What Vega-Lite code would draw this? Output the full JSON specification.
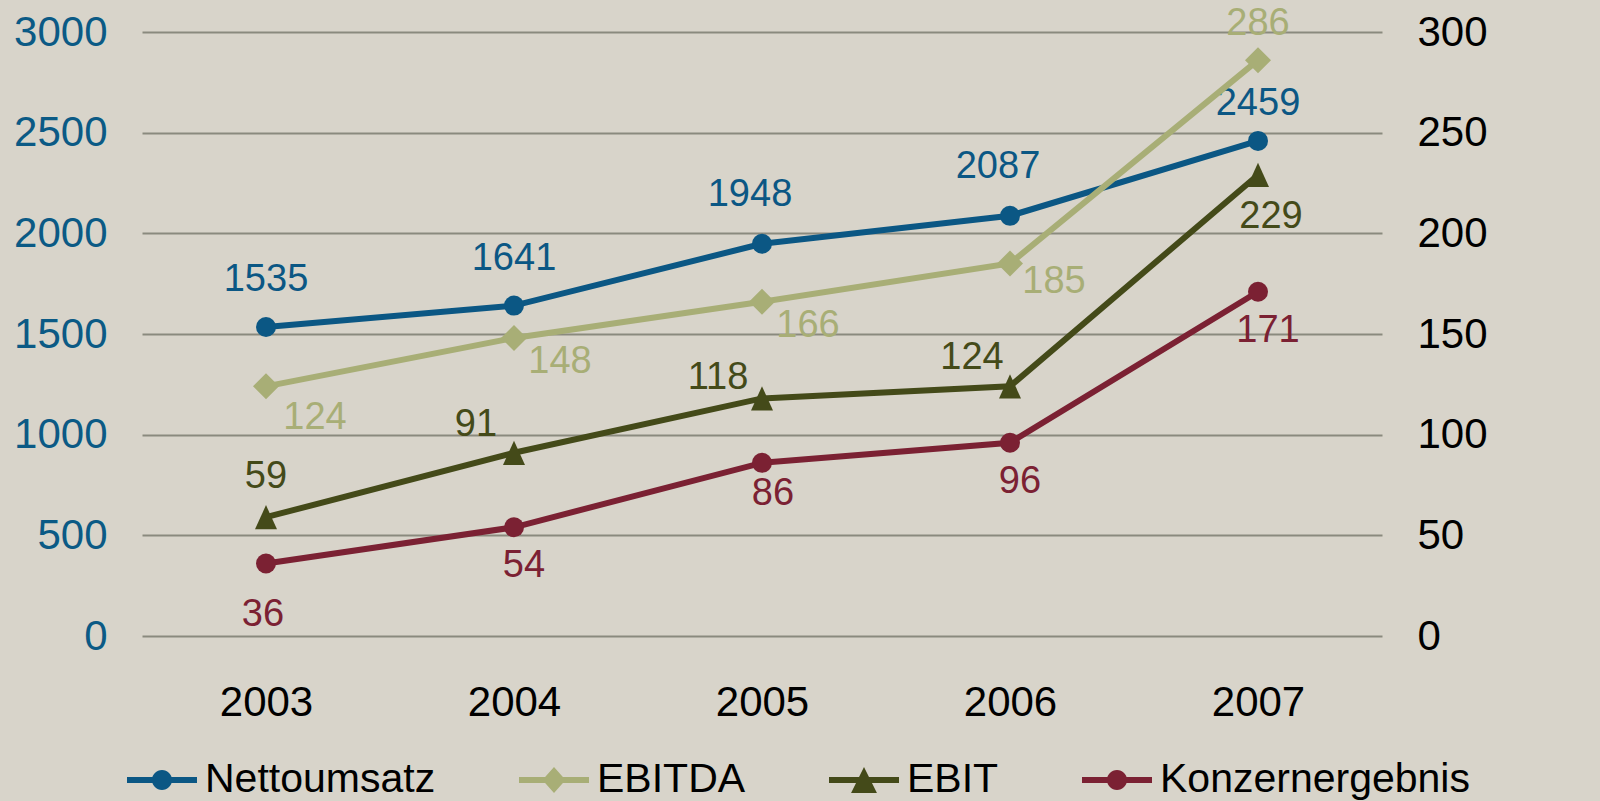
{
  "$schema": "https://vega.github.io/schema/vega-lite/v6.json",
  "width": 1240,
  "height": 604,
  "autosize": {"type": "none"},
  "padding": {"left": 142, "top": 32, "right": 218, "bottom": 165},
  "background": "#d8d4ca",
  "config": {
    "view": {"stroke": null},
    "font": "Liberation Sans",
    "axis": {"domain": false, "ticks": false, "labelFont": "Liberation Sans", "labelFontSize": 42, "title": null, "grid": false}
  },
  "data": {
    "values": [
      {"year": "2003", "series": "Nettoumsatz", "value": 1535},
      {"year": "2004", "series": "Nettoumsatz", "value": 1641},
      {"year": "2005", "series": "Nettoumsatz", "value": 1948},
      {"year": "2006", "series": "Nettoumsatz", "value": 2087},
      {"year": "2007", "series": "Nettoumsatz", "value": 2459},
      {"year": "2003", "series": "EBITDA", "value": 124},
      {"year": "2004", "series": "EBITDA", "value": 148},
      {"year": "2005", "series": "EBITDA", "value": 166},
      {"year": "2006", "series": "EBITDA", "value": 185},
      {"year": "2007", "series": "EBITDA", "value": 286},
      {"year": "2003", "series": "EBIT", "value": 59},
      {"year": "2004", "series": "EBIT", "value": 91},
      {"year": "2005", "series": "EBIT", "value": 118},
      {"year": "2006", "series": "EBIT", "value": 124},
      {"year": "2007", "series": "EBIT", "value": 229},
      {"year": "2003", "series": "Konzernergebnis", "value": 36},
      {"year": "2004", "series": "Konzernergebnis", "value": 54},
      {"year": "2005", "series": "Konzernergebnis", "value": 86},
      {"year": "2006", "series": "Konzernergebnis", "value": 96},
      {"year": "2007", "series": "Konzernergebnis", "value": 171}
    ]
  },
  "encoding": {
    "x": {"field": "year", "type": "ordinal", "axis": {"labelAngle": 0, "labelPadding": 46, "labelColor": "#000000"}},
    "color": {
      "field": "series",
      "type": "nominal",
      "scale": {"domain": ["Nettoumsatz", "EBITDA", "EBIT", "Konzernergebnis"], "range": ["#0b5784", "#a8ae76", "#444a19", "#7b2133"]},
      "legend": null
    }
  },
  "layer": [
    {
      "transform": [{"filter": "false"}],
      "mark": {"type": "point", "filled": true, "opacity": 1, "strokeWidth": 0},
      "encoding": {
        "color": {
          "field": "series",
          "type": "nominal",
          "scale": {"domain": ["Nettoumsatz", "EBITDA", "EBIT", "Konzernergebnis"], "range": ["#0b5784", "#a8ae76", "#444a19", "#7b2133"]},
          "legend": {"orient": "none", "legendX": -15, "legendY": 713, "direction": "horizontal", "columns": 4, "title": null, "labelFontSize": 41, "labelFont": "Liberation Sans", "labelColor": "#000000", "labelOffset": 8, "columnPadding": 83, "symbolSize": 4900, "symbolStrokeWidth": 0, "symbolOpacity": 1, "padding": 0, "labelLimit": 1000}
        },
        "shape": {
          "field": "series",
          "type": "nominal",
          "scale": {"domain": ["Nettoumsatz", "EBITDA", "EBIT", "Konzernergebnis"], "range": [
            "M-1,-0.086H1V0.086H-1ZM0.286,0A0.286,0.286,0,1,1,-0.286,0A0.286,0.286,0,1,1,0.286,0Z",
            "M-1,-0.086H1V0.086H-1ZM0,-0.37L0.33,0L0,0.37L-0.33,0Z",
            "M-1,-0.086H1V0.086H-1ZM0,-0.37L0.37,0.37L-0.37,0.37Z",
            "M-1,-0.086H1V0.086H-1ZM0.286,0A0.286,0.286,0,1,1,-0.286,0A0.286,0.286,0,1,1,0.286,0Z"
          ]},
          "legend": {"orient": "none", "legendX": -15, "legendY": 713, "direction": "horizontal", "columns": 4, "title": null, "labelFontSize": 41, "labelFont": "Liberation Sans", "labelColor": "#000000", "labelOffset": 8, "columnPadding": 83, "symbolSize": 4900, "symbolStrokeWidth": 0, "symbolOpacity": 1, "padding": 0, "labelLimit": 1000}
        }
      }
    },
    {
      "transform": [{"filter": "datum.series === 'Nettoumsatz'"}],
      "encoding": {
        "y": {
          "field": "value",
          "type": "quantitative",
          "scale": {"domain": [0, 3000]},
          "axis": {"orient": "left", "values": [0, 500, 1000, 1500, 2000, 2500, 3000], "format": "d", "grid": true, "gridColor": "#8a8a7e", "gridWidth": 2, "labelColor": "#0b5a85", "labelPadding": 35}
        }
      },
      "layer": [
        {"mark": {"type": "line", "strokeWidth": 6}},
        {"mark": {"type": "point", "shape": "circle", "filled": true, "opacity": 1, "size": 400, "strokeWidth": 0}},
        {
          "transform": [{"filter": {"field": "year", "oneOf": ["2003", "2004"]}}],
          "mark": {"type": "text", "fontSize": 38, "dy": -47},
          "encoding": {"text": {"field": "value", "type": "quantitative", "format": "d"}}
        },
        {
          "transform": [{"filter": {"field": "year", "oneOf": ["2005", "2006"]}}],
          "mark": {"type": "text", "fontSize": 38, "dy": -49, "dx": -12},
          "encoding": {"text": {"field": "value", "type": "quantitative", "format": "d"}}
        },
        {
          "transform": [{"filter": {"field": "year", "oneOf": ["2007"]}}],
          "mark": {"type": "text", "fontSize": 38, "dy": -37},
          "encoding": {"text": {"field": "value", "type": "quantitative", "format": "d"}}
        }
      ]
    },
    {
      "transform": [{"filter": "datum.series !== 'Nettoumsatz'"}],
      "encoding": {
        "y": {
          "field": "value",
          "type": "quantitative",
          "scale": {"domain": [0, 300]},
          "axis": {"orient": "right", "values": [0, 50, 100, 150, 200, 250, 300], "format": "d", "grid": false, "labelColor": "#000000", "labelPadding": 35}
        }
      },
      "layer": [
        {"mark": {"type": "line", "strokeWidth": 6}},
        {
          "transform": [{"filter": "datum.series === 'EBITDA'"}],
          "mark": {"type": "point", "shape": "diamond", "filled": true, "opacity": 1, "size": 676, "strokeWidth": 0}
        },
        {
          "transform": [{"filter": "datum.series === 'EBIT'"}],
          "mark": {"type": "point", "shape": "M0,-1.1L1,1.1L-1,1.1Z", "filled": true, "opacity": 1, "size": 484, "strokeWidth": 0}
        },
        {
          "transform": [{"filter": "datum.series === 'Konzernergebnis'"}],
          "mark": {"type": "point", "shape": "circle", "filled": true, "opacity": 1, "size": 400, "strokeWidth": 0}
        },
        {
          "transform": [{"filter": "datum.series === 'EBITDA' && datum.year === '2003'"}],
          "mark": {"type": "text", "fontSize": 38, "dx": 49, "dy": 32},
          "encoding": {"text": {"field": "value", "type": "quantitative", "format": "d"}}
        },
        {
          "transform": [{"filter": "datum.series === 'EBITDA' && (datum.year === '2004' || datum.year === '2005')"}],
          "mark": {"type": "text", "fontSize": 38, "dx": 46, "dy": 24},
          "encoding": {"text": {"field": "value", "type": "quantitative", "format": "d"}}
        },
        {
          "transform": [{"filter": "datum.series === 'EBITDA' && datum.year === '2006'"}],
          "mark": {"type": "text", "fontSize": 38, "dx": 44, "dy": 18},
          "encoding": {"text": {"field": "value", "type": "quantitative", "format": "d"}}
        },
        {
          "transform": [{"filter": "datum.series === 'EBITDA' && datum.year === '2007'"}],
          "mark": {"type": "text", "fontSize": 38, "dy": -36},
          "encoding": {"text": {"field": "value", "type": "quantitative", "format": "d"}}
        },
        {
          "transform": [{"filter": "datum.series === 'EBIT' && datum.year === '2003'"}],
          "mark": {"type": "text", "fontSize": 38, "dy": -40},
          "encoding": {"text": {"field": "value", "type": "quantitative", "format": "d"}}
        },
        {
          "transform": [{"filter": "datum.series === 'EBIT' && (datum.year === '2004' || datum.year === '2006')"}],
          "mark": {"type": "text", "fontSize": 38, "dx": -38, "dy": -28},
          "encoding": {"text": {"field": "value", "type": "quantitative", "format": "d"}}
        },
        {
          "transform": [{"filter": "datum.series === 'EBIT' && datum.year === '2005'"}],
          "mark": {"type": "text", "fontSize": 38, "dx": -44, "dy": -20},
          "encoding": {"text": {"field": "value", "type": "quantitative", "format": "d"}}
        },
        {
          "transform": [{"filter": "datum.series === 'EBIT' && datum.year === '2007'"}],
          "mark": {"type": "text", "fontSize": 38, "dx": 13, "dy": 42},
          "encoding": {"text": {"field": "value", "type": "quantitative", "format": "d"}}
        },
        {
          "transform": [{"filter": "datum.series === 'Konzernergebnis' && datum.year === '2003'"}],
          "mark": {"type": "text", "fontSize": 38, "dx": -3, "dy": 51},
          "encoding": {"text": {"field": "value", "type": "quantitative", "format": "d"}}
        },
        {
          "transform": [{"filter": "datum.series === 'Konzernergebnis' && datum.year === '2005'"}],
          "mark": {"type": "text", "fontSize": 38, "dx": 11, "dy": 31},
          "encoding": {"text": {"field": "value", "type": "quantitative", "format": "d"}}
        },
        {
          "transform": [{"filter": "datum.series === 'Konzernergebnis' && datum.year !== '2003' && datum.year !== '2005'"}],
          "mark": {"type": "text", "fontSize": 38, "dx": 10, "dy": 39},
          "encoding": {"text": {"field": "value", "type": "quantitative", "format": "d"}}
        }
      ]
    }
  ],
  "resolve": {"scale": {"y": "independent"}}
}
